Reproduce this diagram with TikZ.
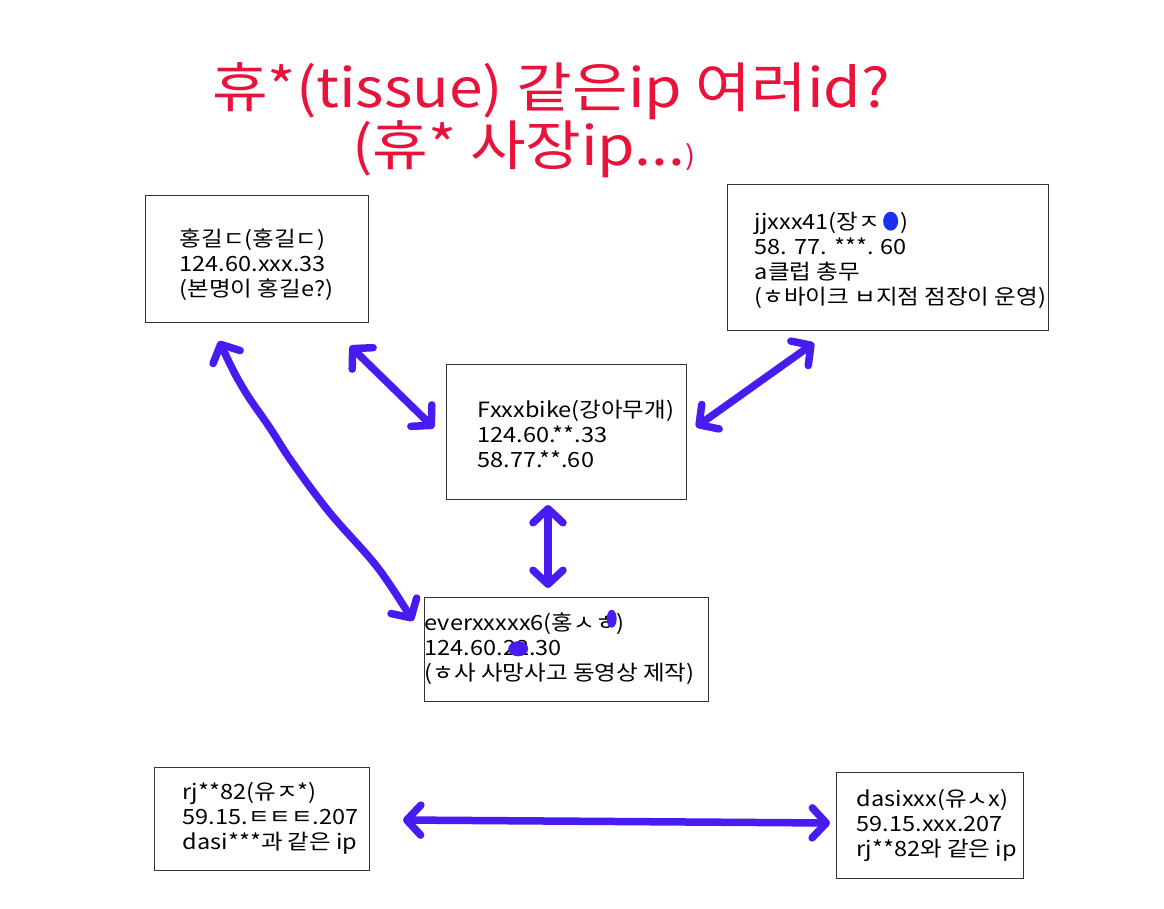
\documentclass[tikz,border=0pt]{standalone}
\usepackage{fontspec}
\setmainfont[FakeStretch=1.12]{Noto Sans CJK KR}
\usepackage{tikz}
\usetikzlibrary{positioning, arrows.meta}
\definecolor{penblue}{RGB}{72,28,240}
\definecolor{titlered}{RGB}{232,18,58}
\definecolor{hideblue}{RGB}{28,48,245}
\newcommand{\inkblot}[3]{\tikz[overlay]\fill[penblue] (#1) ellipse [x radius=#2, y radius=#3];}

\begin{document}
\begin{tikzpicture}[x=1pt, y=-1pt,
  box/.style={draw=black!80, line width=0.9pt, inner sep=0pt},
  info/.style={font=\fontsize{21}{25}\selectfont, align=left, inner sep=0pt, anchor=west},
  headline/.style={font=\fontsize{54}{60}\selectfont, text=titlered, inner sep=0pt, anchor=base west},
  link/.style={draw=penblue, line width=7.5pt, line cap=round, line join=round,
    {Straight Barb[round, length=14pt, width=30pt]}-{Straight Barb[round, length=14pt, width=30pt]}}]
\useasboundingbox (0,0) rectangle (1164,908);

\node[headline] (title) at (212,107) {휴*(tissue) 같은ip 여러id?};
\node[headline] (subtitle) at (352,165) {(휴* 사장ip...{\fontsize{27}{30}\selectfont )}};

\node[box, minimum width=223pt, minimum height=127pt] (hong) at (256.5,258.5) {};
\node[box, minimum width=321pt, minimum height=146pt] (jjxxx) at (887.5,257) {};
\node[box, minimum width=240pt, minimum height=135pt] (fxxx) at (566,431.5) {};
\node[box, minimum width=284pt, minimum height=104pt] (ever) at (566,649) {};
\node[box, minimum width=215pt, minimum height=103pt] (rj) at (261.5,818.5) {};
\node[box, minimum width=187pt, minimum height=106pt] (dasi) at (929.5,825) {};

\node[info] at ([xshift=35pt, yshift=-6pt]hong.west) {홍길ㄷ(홍길ㄷ)\\124.60.xxx.33\\(본명이 홍길e?)};
\node[info] at ([xshift=28pt, yshift=-3pt]jjxxx.west) {jjxxx41(장ㅈ\hspace{3pt}\tikz[baseline]\fill[hideblue] (7.5pt,8pt) ellipse [x radius=7.5pt, y radius=9.5pt];\hspace{2pt})\\58. 77. ***. 60\\a클럽 총무\\(ㅎ바이크 ㅂ지점 점장이 운영)};
\node[info] at ([xshift=32pt, yshift=-2pt]fxxx.west) {Fxxxbike(강아무개)\\124.60.**.33\\58.77.**.60};
\node[info] at ([xshift=1pt]ever.west) {everxxxxx6(홍ㅅㅎ\inkblot{-5pt,12pt}{5pt}{9pt})\\124.60.22\inkblot{-11pt,7pt}{10pt}{7.5pt}.30\\(ㅎ사 사망사고 동영상 제작)};
\node[info] at ([xshift=29pt]rj.west) {rj**82(유ㅈ*)\\59.15.ㅌㅌㅌ.207\\dasi***과 같은 ip};
\node[info] at ([xshift=21pt]dasi.west) {dasixxx(유ㅅx)\\59.15.xxx.207\\rj**82와 같은 ip};

\coordinate (a1) at (219,341);
\coordinate (a2) at (350,346);
\coordinate (b1) at (814,343);
\coordinate (c1) at (434,428);
\coordinate (c2) at (696,427);
\coordinate (c3) at (548,505);
\coordinate (d1) at (413,621);
\coordinate (d2) at (548,588);
\coordinate (e1) at (403,820);
\coordinate (f1) at (830,823);

\draw[link] plot[smooth, tension=0.6] coordinates {(a1) (243,388) (270,428) (292,462) (330,513) (378,568) (d1)};
\draw[link] (a2) -- (c1);
\draw[link] (b1) -- (c2);
\draw[link] (c3) -- (d2);
\draw[link] (e1) -- (f1);
\end{tikzpicture}
\end{document}
